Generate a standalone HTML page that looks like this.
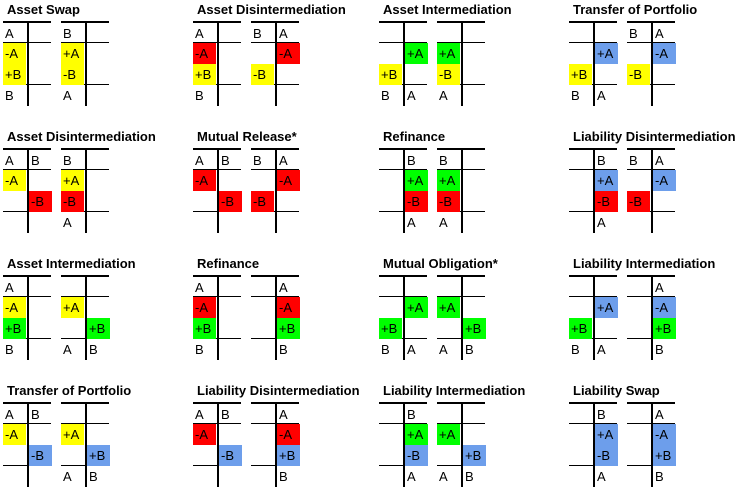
<!DOCTYPE html>
<html><head><meta charset="utf-8"><style>
body{margin:0;background:#fff;width:746px;height:490px;position:relative;overflow:hidden;font-family:"Liberation Sans",Arial,sans-serif;font-size:13px;color:#000}
.a{position:absolute}
.t{position:absolute;font-weight:bold;font-size:13px;white-space:nowrap}
.c{position:absolute;width:23px;height:21px;line-height:21px;padding-left:2px;box-sizing:border-box}
</style></head><body>
<script>
const Y='#ffff00',R='#ff0000',G='#00ff00',B='#6d9eeb';
const titles=[["Asset Swap","Asset Disintermediation","Asset Intermediation","Transfer of Portfolio"],
["Asset Disintermediation","Mutual Release*","Refinance","Liability Disintermediation"],
["Asset Intermediation","Refinance","Mutual Obligation*","Liability Intermediation"],
["Transfer of Portfolio","Liability Disintermediation","Liability Intermediation","Liability Swap"]];
// each T: [head, r1:[side,label,color], r2, foot]
const panels=[
[[[["A",""],["L","-A",Y],["L","+B",Y],["B",""]],[["B",""],["L","+A",Y],["L","-B",Y],["A",""]]],
 [[["A",""],["L","-A",R],["L","+B",Y],["B",""]],[["B","A"],["R","-A",R],["L","-B",Y],["",""]]],
 [[["",""],["R","+A",G],["L","+B",Y],["B","A"]],[["",""],["L","+A",G],["L","-B",Y],["A",""]]],
 [[["",""],["R","+A",B],["L","+B",Y],["B","A"]],[["B","A"],["R","-A",B],["L","-B",Y],["",""]]]],
[[[["A","B"],["L","-A",Y],["R","-B",R],["",""]],[["B",""],["L","+A",Y],["L","-B",R],["A",""]]],
 [[["A","B"],["L","-A",R],["R","-B",R],["",""]],[["B","A"],["R","-A",R],["L","-B",R],["",""]]],
 [[["","B"],["R","+A",G],["R","-B",R],["","A"]],[["B",""],["L","+A",G],["L","-B",R],["A",""]]],
 [[["","B"],["R","+A",B],["R","-B",R],["","A"]],[["B","A"],["R","-A",B],["L","-B",R],["",""]]]],
[[[["A",""],["L","-A",Y],["L","+B",G],["B",""]],[["",""],["L","+A",Y],["R","+B",G],["A","B"]]],
 [[["A",""],["L","-A",R],["L","+B",G],["B",""]],[["","A"],["R","-A",R],["R","+B",G],["","B"]]],
 [[["",""],["R","+A",G],["L","+B",G],["B","A"]],[["",""],["L","+A",G],["R","+B",G],["A","B"]]],
 [[["",""],["R","+A",B],["L","+B",G],["B","A"]],[["","A"],["R","-A",B],["R","+B",G],["","B"]]]],
[[[["A","B"],["L","-A",Y],["R","-B",B],["",""]],[["",""],["L","+A",Y],["R","+B",B],["A","B"]]],
 [[["A","B"],["L","-A",R],["R","-B",B],["",""]],[["","A"],["R","-A",R],["R","+B",B],["","B"]]],
 [[["","B"],["R","+A",G],["R","-B",B],["","A"]],[["",""],["L","+A",G],["R","+B",B],["A","B"]]],
 [[["","B"],["R","+A",B],["R","-B",B],["","A"]],[["","A"],["R","-A",B],["R","+B",B],["","B"]]]]];
const colX=[3,193,379,569], rowY=[0,127,254,381];
function mk(cls,x,y,w,h,bg,txt,name){const d=document.createElement('div');d.className=cls;d.style.left=x+'px';d.style.top=y+'px';
if(w!=null)d.style.width=w+'px';if(h!=null)d.style.height=h+'px';if(bg)d.style.background=bg;if(txt)d.textContent=txt;


document.body.appendChild(d);return d;}
for(let r=0;r<4;r++)for(let c=0;c<4;c++){
 const px=colX[c],py=rowY[r];
 mk('t',px+4,py+2,null,null,null,titles[r][c],'panel-title');
 panels[r][c].forEach((T,k)=>{
  const x=px+k*58,y=py+21;
  mk('a',x,y,48,2,'#000',null,'t-account-top-line');
  mk('a',x,y+21,48,1,'#000',null,'t-account-divider');
  mk('a',x,y+63,48,1,'#000',null,'t-account-divider');
  mk('a',x+24,y,2,85,'#000',null,'t-account-spine');
  const cell=(side,yy,txt,bg,name)=>{const xx=side==='L'?x:x+26;const e=mk('c',xx,yy,null,null,bg,txt,name);};
  if(T[0][0])cell('L',y+2,T[0][0],null,'header-label');
  if(T[0][1])cell('R',y+2,T[0][1],null,'header-label');
  cell(T[1][0],y+22,T[1][1],T[1][2],'entry-cell');
  cell(T[2][0],y+43,T[2][1],T[2][2],'entry-cell');
  if(T[3][0])cell('L',y+64,T[3][0],null,'footer-label');
  if(T[3][1])cell('R',y+64,T[3][1],null,'footer-label');
 });
}
</script>
</body></html>
